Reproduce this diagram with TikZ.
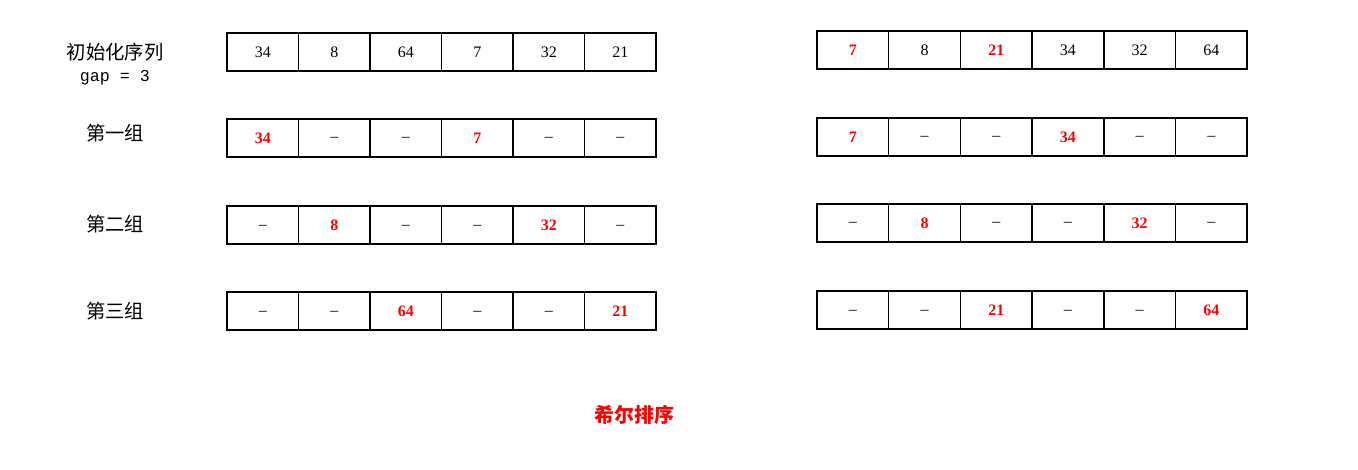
\documentclass[tikz,border=0pt]{standalone}
\usepackage{fontspec}
\setmainfont{Liberation Serif}
\setmonofont{Liberation Mono}
\newfontfamily\cjk{Noto Sans CJK SC}
\usetikzlibrary{positioning}

\tikzset{
  cell/.style={draw, line width=1pt, minimum width=53.6pt, minimum height=28.5pt,
    inner sep=0pt, text height=8pt, text depth=0pt, font=\fontsize{12}{14}\selectfont},
  hit/.style={text=red, font=\fontsize{12}{14}\selectfont\bfseries},
  lbl/.style={font=\cjk\fontsize{14.5}{16}\selectfont}
}
\newcommand{\dsh}{\raisebox{1pt}{--}}

\begin{document}
\begin{tikzpicture}[x=0.75pt, y=-0.75pt]
  % 画布大小
  \useasboundingbox (0,0) rectangle (1358,470);

  % 左边: 初始序列和三个分组
  \node[lbl] (t0) at (115,52) {初始化序列};
  \node[font=\ttfamily\fontsize{12.5}{14}\selectfont] (gap) at (115,78) {gap = 3};
  \node[lbl] (t1) at (115,133) {第一组};
  \node[lbl] (t2) at (115,224) {第二组};
  \node[lbl] (t3) at (115,311) {第三组};

  \foreach \v/\s [count=\i] in {34/,8/,64/,7/,32/,21/}
    \node[cell,\s] (l0\i) at ({227+71.5*(\i-0.5)},52) {\v};
  \foreach \v/\s [count=\i] in {34/hit,\dsh/,\dsh/,7/hit,\dsh/,\dsh/}
    \node[cell,\s] (l1\i) at ({227+71.5*(\i-0.5)},138) {\v};
  \foreach \v/\s [count=\i] in {\dsh/,8/hit,\dsh/,\dsh/,32/hit,\dsh/}
    \node[cell,\s] (l2\i) at ({227+71.5*(\i-0.5)},225) {\v};
  \foreach \v/\s [count=\i] in {\dsh/,\dsh/,64/hit,\dsh/,\dsh/,21/hit}
    \node[cell,\s] (l3\i) at ({227+71.5*(\i-0.5)},311) {\v};

  % 右边: 各组排序之后
  \foreach \v/\s [count=\i] in {7/hit,8/,21/hit,34/,32/,64/}
    \node[cell,\s] (r0\i) at ({817+71.7*(\i-0.5)},50) {\v};
  \foreach \v/\s [count=\i] in {7/hit,\dsh/,\dsh/,34/hit,\dsh/,\dsh/}
    \node[cell,\s] (r1\i) at ({817+71.7*(\i-0.5)},137) {\v};
  \foreach \v/\s [count=\i] in {\dsh/,8/hit,\dsh/,\dsh/,32/hit,\dsh/}
    \node[cell,\s] (r2\i) at ({817+71.7*(\i-0.5)},223) {\v};
  \foreach \v/\s [count=\i] in {\dsh/,\dsh/,21/hit,\dsh/,\dsh/,64/hit}
    \node[cell,\s] (r3\i) at ({817+71.7*(\i-0.5)},310) {\v};

  % 标题
  \node[font=\cjk\fontsize{15}{17}\selectfont\bfseries, text=red] (title) at (634,415) {希尔排序};
\end{tikzpicture}
\end{document}
